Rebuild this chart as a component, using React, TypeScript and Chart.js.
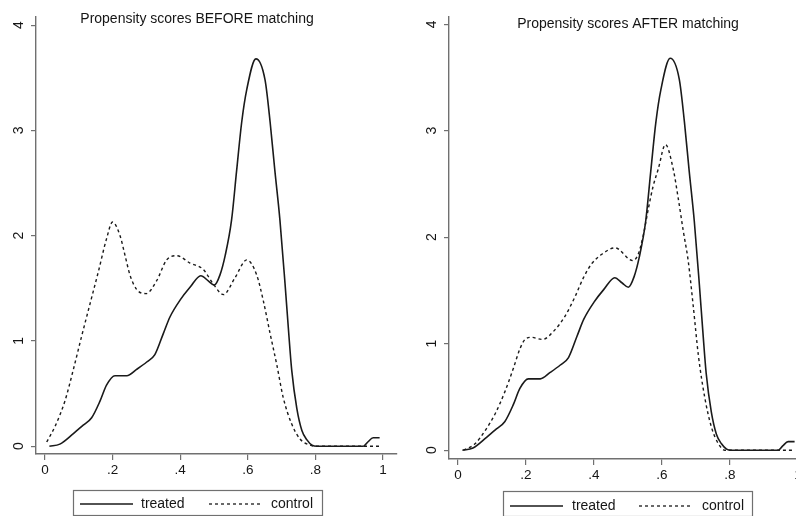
import React, { useEffect, useRef } from 'react';
import { Chart, registerables } from 'chart.js';

Chart.register(...registerables);

// ---- data ----
const xTickValues = [0, 0.2, 0.4, 0.6, 0.8, 1];
const xTickLabels = ['0', '.2', '.4', '.6', '.8', '1'];
const yTickValues = [0, 1, 2, 3, 4];
const yTickLabels = ['0', '1', '2', '3', '4'];
const seriesNames = ['treated', 'control'];
const panelTitles = ['Propensity scores BEFORE matching', 'Propensity scores AFTER matching'];

const treatedX = [0.013, 0.044, 0.084, 0.113, 0.138, 0.163, 0.182, 0.207, 0.242, 0.271, 0.301, 0.325, 0.35, 0.37, 0.4, 0.429, 0.461, 0.483, 0.501, 0.518, 0.533, 0.552, 0.567, 0.582, 0.597, 0.624, 0.651, 0.666, 0.68, 0.695, 0.71, 0.72, 0.73, 0.745, 0.76, 0.775, 0.79, 0.805, 0.942, 0.955, 0.971, 0.99];
const treatedY = [0, 0.02, 0.12, 0.2, 0.27, 0.43, 0.58, 0.67, 0.67, 0.73, 0.8, 0.87, 1.07, 1.23, 1.39, 1.51, 1.62, 1.57, 1.53, 1.63, 1.81, 2.15, 2.62, 3.08, 3.39, 3.68, 3.48, 3.08, 2.62, 2.15, 1.55, 1.12, 0.72, 0.36, 0.15, 0.06, 0.01, 0, 0, 0.04, 0.08, 0.08];

const controlBeforeX = [0.005, 0.03, 0.059, 0.084, 0.108, 0.133, 0.158, 0.182, 0.2, 0.222, 0.237, 0.251, 0.271, 0.299, 0.33, 0.36, 0.39, 0.429, 0.468, 0.498, 0.528, 0.562, 0.597, 0.626, 0.646, 0.666, 0.686, 0.705, 0.73, 0.754, 0.784, 0.8, 0.99];
const controlBeforeY = [0.04, 0.19, 0.43, 0.73, 1.04, 1.35, 1.66, 1.97, 2.13, 2.0, 1.81, 1.63, 1.49, 1.45, 1.57, 1.77, 1.81, 1.74, 1.68, 1.54, 1.44, 1.6, 1.77, 1.63, 1.38, 1.07, 0.77, 0.46, 0.21, 0.07, 0.01, 0, 0];

const controlAfterX = [0.016, 0.05, 0.079, 0.109, 0.138, 0.163, 0.182, 0.197, 0.215, 0.248, 0.285, 0.315, 0.344, 0.369, 0.393, 0.423, 0.462, 0.514, 0.53, 0.545, 0.56, 0.574, 0.589, 0.61, 0.633, 0.648, 0.663, 0.677, 0.692, 0.707, 0.726, 0.746, 0.766, 0.785, 0.99];
const controlAfterY = [0, 0.06, 0.18, 0.34, 0.55, 0.77, 0.95, 1.04, 1.06, 1.04, 1.13, 1.26, 1.44, 1.62, 1.75, 1.84, 1.9, 1.78, 1.84, 2.02, 2.27, 2.48, 2.64, 2.87, 2.64, 2.36, 2.05, 1.78, 1.35, 0.89, 0.49, 0.21, 0.06, 0, 0];

// ---- styling ----
const FONT = '"Liberation Sans", Arial, Helvetica, sans-serif';
const LINE = '#1a1a1a';
const AXIS = '#707070';
const TEXT = '#151515';
const H = 516;

const toPoints = (xs: number[], ys: number[]) => xs.map((x, i) => ({ x, y: ys[i] }));

const panelDecor = {
  id: 'panelDecor',
  afterDraw(chart: any, _args: any, o: any) {
    const ctx = chart.ctx as CanvasRenderingContext2D;
    ctx.save();
    // title
    ctx.fillStyle = TEXT;
    ctx.font = `14px ${FONT}`;
    ctx.textAlign = 'center';
    ctx.textBaseline = 'middle';
    ctx.fillText(o.title, o.titleX, o.titleY);
    // legend box
    ctx.strokeStyle = AXIS;
    ctx.lineWidth = 1.2;
    ctx.setLineDash([]);
    ctx.strokeRect(o.boxX + 0.5, o.boxY + 0.5, o.boxW, o.boxH);
    const ly = o.boxY + o.rowY;
    o.items.forEach((it: any) => {
      ctx.beginPath();
      ctx.strokeStyle = LINE;
      ctx.lineWidth = it.dash.length ? 1.3 : 1.5;
      ctx.setLineDash(it.dash);
      ctx.moveTo(it.s1, ly);
      ctx.lineTo(it.s2, ly);
      ctx.stroke();
      ctx.setLineDash([]);
      ctx.fillStyle = TEXT;
      ctx.font = `14px ${FONT}`;
      ctx.textAlign = 'left';
      ctx.textBaseline = 'middle';
      ctx.fillText(it.text, it.tx, ly);
    });
    ctx.restore();
  },
};

type PanelCfg = {
  left: number;
  width: number;
  padTop: number;
  padRight: number;
  yAxisWidth: number;
  xAxisHeight: number;
  xMin: number;
  xMax: number;
  yMin: number;
  yMax: number;
  title: string;
  titleX: number;
  titleY: number;
  boxX: number;
  boxY: number;
  boxW: number;
  boxH: number;
  rowY: number;
  s1: number;
  s2: number;
  t1: number;
  d1: number;
  d2: number;
  t2: number;
};

function Panel({ cfg, controlX, controlY }: { cfg: PanelCfg; controlX: number[]; controlY: number[] }) {
  const ref = useRef<HTMLCanvasElement>(null);
  useEffect(() => {
    const chart = new Chart(ref.current as HTMLCanvasElement, {
      type: 'line',
      data: {
        datasets: [
          {
            label: seriesNames[0],
            data: toPoints(treatedX, treatedY),
            borderColor: LINE,
            borderWidth: 1.6,
            pointRadius: 0,
            fill: false,
            cubicInterpolationMode: 'monotone',
          },
          {
            label: seriesNames[1],
            data: toPoints(controlX, controlY),
            borderColor: LINE,
            borderWidth: 1.4,
            borderDash: [3, 3],
            pointRadius: 0,
            fill: false,
            cubicInterpolationMode: 'monotone',
          },
        ],
      } as any,
      options: {
        responsive: false,
        animation: false,
        devicePixelRatio: 1,
        events: [],
        layout: { padding: { left: 0, top: cfg.padTop, right: cfg.padRight, bottom: 0 } },
        scales: {
          x: {
            type: 'linear',
            min: cfg.xMin,
            max: cfg.xMax,
            afterBuildTicks: (s: any) => {
              s.ticks = xTickValues.map((v) => ({ value: v }));
            },
            afterFit: (s: any) => {
              s.height = cfg.xAxisHeight;
            },
            ticks: {
              autoSkip: false,
              maxRotation: 0,
              minRotation: 0,
              padding: 2,
              color: TEXT,
              font: { family: FONT, size: 13.5 },
              callback: (v: any) => {
                const i = xTickValues.findIndex((t) => Math.abs(t - Number(v)) < 1e-9);
                return i >= 0 ? xTickLabels[i] : '';
              },
            },
            grid: { display: true, drawOnChartArea: false, drawTicks: true, tickLength: 6, color: AXIS, lineWidth: 1.2 },
            border: { display: true, color: AXIS, width: 1.4 },
          },
          y: {
            type: 'linear',
            min: cfg.yMin,
            max: cfg.yMax,
            afterBuildTicks: (s: any) => {
              s.ticks = yTickValues.map((v) => ({ value: v }));
            },
            afterFit: (s: any) => {
              s.width = cfg.yAxisWidth;
            },
            ticks: {
              autoSkip: false,
              minRotation: 90,
              maxRotation: 90,
              crossAlign: 'center',
              padding: 8,
              color: TEXT,
              font: { family: FONT, size: 14 },
              callback: (v: any) => {
                const i = yTickValues.findIndex((t) => Math.abs(t - Number(v)) < 1e-9);
                return i >= 0 ? yTickLabels[i] : '';
              },
            },
            grid: { display: true, drawOnChartArea: false, drawTicks: true, tickLength: 5, color: AXIS, lineWidth: 1.2 },
            border: { display: true, color: AXIS, width: 1.4 },
          },
        },
        plugins: {
          legend: { display: false },
          tooltip: { enabled: false },
          title: { display: false },
          panelDecor: {
            title: cfg.title,
            titleX: cfg.titleX,
            titleY: cfg.titleY,
            boxX: cfg.boxX,
            boxY: cfg.boxY,
            boxW: cfg.boxW,
            boxH: cfg.boxH,
            rowY: cfg.rowY,
            items: [
              { text: seriesNames[0], s1: cfg.s1, s2: cfg.s2, tx: cfg.t1, dash: [] },
              { text: seriesNames[1], s1: cfg.d1, s2: cfg.d2, tx: cfg.t2, dash: [3, 3] },
            ],
          },
        } as any,
      } as any,
      plugins: [panelDecor as any],
    });
    return () => chart.destroy();
  }, []);
  return (
    <canvas
      ref={ref}
      width={cfg.width}
      height={H}
      style={{ position: 'absolute', left: cfg.left, top: 0, width: cfg.width, height: H }}
    />
  );
}

const leftCfg: PanelCfg = {
  left: 0,
  width: 400,
  padTop: 5,
  padRight: 3,
  yAxisWidth: 36,
  xAxisHeight: H - 454,
  xMin: -9 / 338,
  xMax: (397 - 45) / 338,
  yMin: -8 / 108,
  yMax: 4 + 9 / 108,
  title: panelTitles[0],
  titleX: 197,
  titleY: 19,
  boxX: 73,
  boxY: 490,
  boxW: 249,
  boxH: 25,
  rowY: 14,
  s1: 80,
  s2: 133,
  t1: 141,
  d1: 209,
  d2: 263,
  t2: 271,
};

const rightCfg: PanelCfg = {
  left: 400,
  width: 415,
  padTop: 7,
  padRight: 3,
  yAxisWidth: 49,
  xAxisHeight: H - 459,
  xMin: -9 / 340,
  xMax: (812 - 458) / 340,
  yMin: -9 / 108.75,
  yMax: 4 + 8 / 108.75,
  title: panelTitles[1],
  titleX: 228,
  titleY: 24,
  boxX: 103,
  boxY: 491,
  boxW: 249,
  boxH: 25,
  rowY: 15,
  s1: 110,
  s2: 163,
  t1: 172,
  d1: 239,
  d2: 293,
  t2: 302,
};

export default function App() {
  return (
    <div
      style={{
        position: 'fixed',
        left: 0,
        top: 0,
        width: 796,
        height: H,
        overflow: 'hidden',
        background: '#ffffff',
      }}
    >
      <Panel cfg={leftCfg} controlX={controlBeforeX} controlY={controlBeforeY} />
      <Panel cfg={rightCfg} controlX={controlAfterX} controlY={controlAfterY} />
    </div>
  );
}
